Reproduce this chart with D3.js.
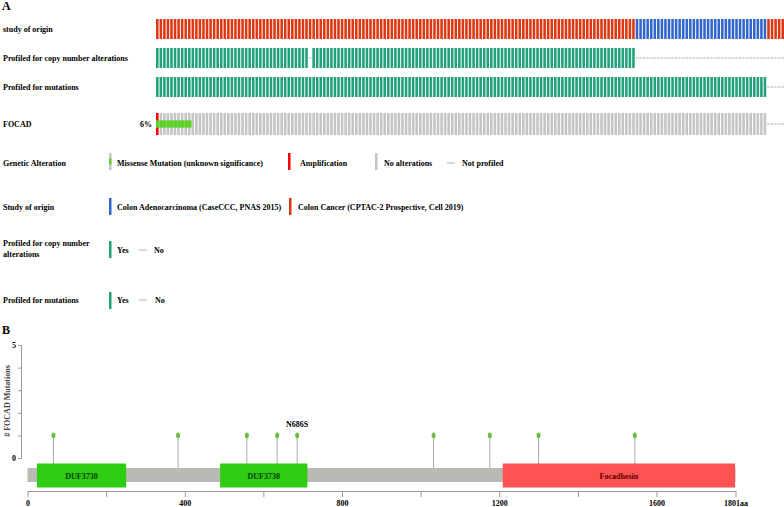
<!DOCTYPE html>
<html>
<head>
<meta charset="utf-8">
<script src="https://cdn.jsdelivr.net/npm/d3@7"></script>
<style>
  body { margin: 0; background: #fff; }
  text { font-family: "Liberation Serif", "DejaVu Serif", serif; font-weight: bold; }
</style>
</head>
<body>
<div id="vis"></div>
<script>
// ---- oncoprint data ----
const studyNames = [
  "Colon Cancer (CPTAC-2 Prospective, Cell 2019)",
  "Colon Adenocarcinoma (CaseCCC, PNAS 2015)",
];
const studyColors = ["#dc3912", "#3366cc"];
// runs of samples (left to right) and which study they belong to
const studyRunSizes = [135, 37, 5];
const studyRunIds = [0, 1, 0];
const cnaProfiledCount = 135;
const cnaNotProfiledCols = [43];
const mutProfiledCount = 172;
const missenseCols = [0, 1, 2, 3, 4, 5, 6, 7, 8, 9];
const ampCols = [0];
const alteredPct = "6%";
const trackLabels = [
  "study of origin",
  "Profiled for copy number alterations",
  "Profiled for mutations",
  "FOCAD",
];

// ---- lollipop data ----
const proteinLength = 1801;
const mutPositions = [66, 383, 558, 635, 686, 1033, 1176, 1300, 1545];
const mutCounts = [1, 1, 1, 1, 1, 1, 1, 1, 1];
const mutLabels = ["", "", "", "", "N686S", "", "", "", ""];
const domainNames = ["DUF3730", "DUF3730", "Focadhesin"];
const domainStarts = [24, 490, 1209];
const domainEnds = [251, 712, 1800];
const xTickValues = [0, 200, 400, 600, 800, 1000, 1200, 1400, 1600, 1801];
const xTickLabels = ["0", "", "400", "", "800", "", "1200", "", "1600", "1801aa"];
const yTickValues = [0, 1, 2, 3, 4, 5];

const W = 784, H = 507;
const svg = d3.select("#vis").append("svg").attr("width", W).attr("height", H);

const profiledColor = "#22a07c";
const greyColor = "#c4c4c4";
const missenseColor = "#5cd12a";
const ampColor = "#ff0000";
const dashColor = "#b0b0b0";

// build samples
const samples = [];
studyRunSizes.forEach((n, r) => {
  for (let i = 0; i < n; i++) samples.push({ study: studyRunIds[r] });
});
samples.forEach((s, i) => {
  s.idx = i;
  s.cna = i < cnaProfiledCount && !cnaNotProfiledCols.includes(i);
  s.mut = i < mutProfiledCount;
  s.missense = missenseCols.includes(i);
  s.amp = ampCols.includes(i);
});

const colX = d3
  .scaleBand()
  .domain(samples.map((d) => d.idx))
  .range([156, 784])
  .paddingInner(0.28)
  .paddingOuter(0);
const bw = colX.bandwidth();

const trackTops = [19, 48, 77, 113];
const trackH = [20, 20, 20, 22];

svg.append("text").attr("x", 2).attr("y", 10).style("font-size", "12px").text("A");

trackLabels.forEach((t, i) => {
  svg
    .append("text")
    .attr("x", 3)
    .attr("y", trackTops[i] + trackH[i] / 2 + 3)
    .style("font-size", "8px")
    .text(t);
});
svg
  .append("text")
  .attr("x", 152)
  .attr("y", 127)
  .attr("text-anchor", "end")
  .style("font-size", "8px")
  .text(alteredPct);

function notProfiled(g, data, top, h) {
  g.selectAll(".np")
    .data(data)
    .join("line")
    .attr("x1", (d) => colX(d.idx))
    .attr("x2", (d) => colX(d.idx) + bw)
    .attr("y1", top + h / 2)
    .attr("y2", top + h / 2)
    .attr("stroke", dashColor)
    .attr("stroke-width", 1);
}

// study of origin
svg
  .append("g")
  .selectAll("rect")
  .data(samples)
  .join("rect")
  .attr("x", (d) => colX(d.idx))
  .attr("y", trackTops[0])
  .attr("width", bw)
  .attr("height", trackH[0])
  .attr("fill", (d) => studyColors[d.study]);

// CNA profiled
const gCna = svg.append("g");
gCna
  .selectAll("rect")
  .data(samples.filter((d) => d.cna))
  .join("rect")
  .attr("x", (d) => colX(d.idx))
  .attr("y", trackTops[1])
  .attr("width", bw)
  .attr("height", trackH[1])
  .attr("fill", profiledColor);
notProfiled(gCna, samples.filter((d) => !d.cna), trackTops[1], trackH[1]);

// mutation profiled
const gMut = svg.append("g");
gMut
  .selectAll("rect")
  .data(samples.filter((d) => d.mut))
  .join("rect")
  .attr("x", (d) => colX(d.idx))
  .attr("y", trackTops[2])
  .attr("width", bw)
  .attr("height", trackH[2])
  .attr("fill", profiledColor);
notProfiled(gMut, samples.filter((d) => !d.mut), trackTops[2], trackH[2]);

// FOCAD gene track
const gGene = svg.append("g");
const prof = samples.filter((d) => d.mut);
gGene
  .selectAll(".bg")
  .data(prof)
  .join("rect")
  .attr("class", "bg")
  .attr("x", (d) => colX(d.idx))
  .attr("y", trackTops[3])
  .attr("width", bw)
  .attr("height", trackH[3])
  .attr("fill", (d) => (d.amp ? ampColor : greyColor));
gGene
  .selectAll(".mis")
  .data(prof.filter((d) => d.missense))
  .join("rect")
  .attr("class", "mis")
  .attr("x", (d) => colX(d.idx))
  .attr("y", trackTops[3] + trackH[3] / 3)
  .attr("width", colX.step())
  .attr("height", trackH[3] / 3)
  .attr("fill", missenseColor);
notProfiled(gGene, samples.filter((d) => !d.mut), trackTops[3], trackH[3]);

// ---- legends ----
const legendFont = "8px";
function legendTitle(lines, y) {
  lines.forEach((l, i) =>
    svg
      .append("text")
      .attr("x", 3)
      .attr("y", y + i * 11)
      .style("font-size", legendFont)
      .text(l),
  );
}
function legendText(x, y, t) {
  svg.append("text").attr("x", x).attr("y", y).style("font-size", legendFont).text(t);
}
function legendBar(x, y, color) {
  svg.append("rect").attr("x", x).attr("y", y).attr("width", 2.5).attr("height", 17).attr("fill", color);
}
function legendDash(x, y) {
  svg.append("line").attr("x1", x).attr("x2", x + 8).attr("y1", y).attr("y2", y).attr("stroke", dashColor);
}

legendTitle(["Genetic Alteration"], 166);
legendBar(109, 153, greyColor);
svg.append("rect").attr("x", 109).attr("y", 158.5).attr("width", 2.5).attr("height", 6).attr("fill", missenseColor);
legendText(117, 166, "Missense Mutation (unknown significance)");
legendBar(288, 153, ampColor);
legendText(300, 166, "Amplification");
legendBar(375, 153, greyColor);
legendText(384, 166, "No alterations");
legendDash(447, 163);
legendText(462, 166, "Not profiled");

legendTitle(["Study of origin"], 210);
legendBar(109, 198, studyColors[1]);
legendText(117, 210, studyNames[1]);
legendBar(289, 198, studyColors[0]);
legendText(298, 210, studyNames[0]);

legendTitle(["Profiled for copy number", "alterations"], 246);
legendBar(109, 241, profiledColor);
legendText(117, 253, "Yes");
legendDash(139, 250);
legendText(154, 253, "No");

legendTitle(["Profiled for mutations"], 303);
legendBar(109, 292, profiledColor);
legendText(117, 303, "Yes");
legendDash(139, 300);
legendText(155, 303, "No");

// ---- lollipop plot ----
svg.append("text").attr("x", 2).attr("y", 334).style("font-size", "12px").text("B");

const x = d3.scaleLinear().domain([0, proteinLength]).range([27.5, 735.5]);
const y = d3.scaleLinear().domain([0, 5]).range([458, 345]);
const axisColor = "#9a9a9a";

const yAxis = svg
  .append("g")
  .attr("transform", "translate(21,0)")
  .call(
    d3
      .axisLeft(y)
      .tickValues(yTickValues)
      .tickSize(3)
      .tickFormat((d) => (d === 0 || d === 5 ? d : "")),
  );
yAxis.select(".domain").attr("stroke", axisColor);
yAxis.selectAll(".tick line").attr("stroke", axisColor);
yAxis
  .selectAll(".tick text")
  .attr("x", -5)
  .style("font-size", "8px")
  .style("font-family", "Liberation Serif")
  .style("font-weight", "bold")
  .attr("fill", "#000");

svg
  .append("text")
  .attr("transform", "rotate(-90)")
  .attr("x", -401)
  .attr("y", 10)
  .attr("text-anchor", "middle")
  .style("font-size", "8px")
  .attr("fill", "#444")
  .text("# FOCAD Mutations");

const xAxis = svg
  .append("g")
  .attr("transform", "translate(0,491)")
  .call(
    d3
      .axisBottom(x)
      .tickValues(xTickValues)
      .tickSize(6)
      .tickSizeOuter(0)
      .tickFormat((d, i) => xTickLabels[i]),
  );
xAxis.select(".domain").attr("stroke", axisColor);
xAxis.selectAll(".tick line").attr("stroke", axisColor);
xAxis
  .selectAll(".tick text")
  .attr("y", 9)
  .style("font-size", "8px")
  .style("font-family", "Liberation Serif")
  .style("font-weight", "bold")
  .attr("fill", "#000");

// backbone
svg
  .append("rect")
  .attr("x", x(0))
  .attr("y", 468)
  .attr("width", x(proteinLength) - x(0))
  .attr("height", 14)
  .attr("fill", "#babab5");

// sticks
const muts = mutPositions.map((p, i) => ({ pos: p, count: mutCounts[i], label: mutLabels[i] }));
svg
  .append("g")
  .selectAll("line")
  .data(muts)
  .join("line")
  .attr("x1", (d) => x(d.pos))
  .attr("x2", (d) => x(d.pos))
  .attr("y1", (d) => y(d.count) + 23)
  .attr("y2", 468)
  .attr("y1", (d) => y(d.count))
  .attr("stroke", "#a8a8a8")
  .attr("stroke-width", 1);

// domains
const domains = domainNames.map((n, i) => ({ name: n, start: domainStarts[i], end: domainEnds[i] }));
const domainFill = { DUF3730: "#2ecc12", Focadhesin: "#ff5252" };
const domainText = { DUF3730: "#0c3b06", Focadhesin: "#5c0000" };
svg
  .append("g")
  .selectAll("rect")
  .data(domains)
  .join("rect")
  .attr("x", (d) => x(d.start))
  .attr("y", 463.5)
  .attr("width", (d) => x(d.end) - x(d.start))
  .attr("height", 24)
  .attr("fill", (d) => domainFill[d.name]);
svg
  .append("g")
  .selectAll("text")
  .data(domains)
  .join("text")
  .attr("x", (d) => (x(d.start) + x(d.end)) / 2)
  .attr("y", 478.5)
  .attr("text-anchor", "middle")
  .style("font-size", "8px")
  .attr("fill", (d) => domainText[d.name])
  .text((d) => d.name);

// heads
svg
  .append("g")
  .selectAll("ellipse")
  .data(muts)
  .join("ellipse")
  .attr("cx", (d) => x(d.pos))
  .attr("cy", (d) => y(d.count))
  .attr("rx", 2)
  .attr("ry", 2.8)
  .attr("fill", "#6fbf3e");

svg
  .append("g")
  .selectAll("text")
  .data(muts.filter((d) => d.label))
  .join("text")
  .attr("x", (d) => x(d.pos))
  .attr("y", (d) => y(d.count) - 8)
  .attr("text-anchor", "middle")
  .style("font-size", "8px")
  .text((d) => d.label);
</script>
</body>
</html>
